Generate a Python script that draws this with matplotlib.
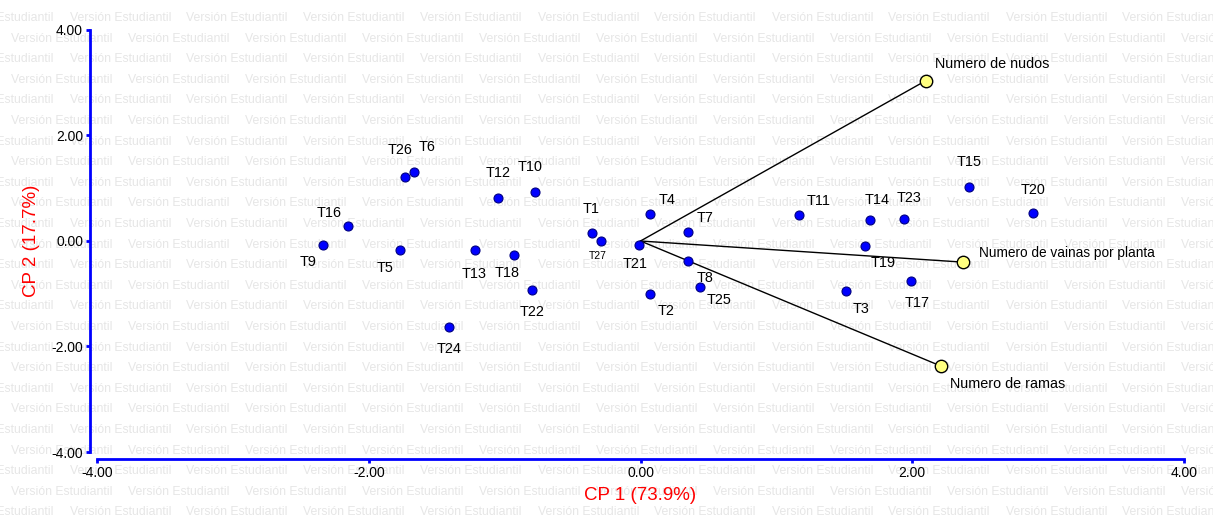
import numpy as np
import matplotlib
matplotlib.use('Agg')
from matplotlib import pyplot as plt

plt.rcParams['font.family'] = ['Liberation Sans', 'DejaVu Sans']

# observations (treatments) in the CP1 / CP2 plane
treat_names = ['T1', 'T2', 'T3', 'T4', 'T5', 'T6', 'T7', 'T8', 'T9', 'T10',
               'T11', 'T12', 'T13', 'T14', 'T15', 'T16', 'T17', 'T18', 'T19', 'T20',
               'T21', 'T22', 'T23', 'T24', 'T25', 'T26', 'T27']
treat_cp1 = [-0.36, 0.07, 1.51, 0.07, -1.77, -1.67, 0.35, 0.35, -2.34, -0.78,
             1.17, -1.05, -1.22, 1.69, 2.42, -2.15, 1.99, -0.93, 1.65, 2.89,
             -0.01, -0.80, 1.94, -1.41, 0.44, -1.73, -0.29]
treat_cp2 = [0.16, -1.00, -0.95, 0.52, -0.18, 1.30, 0.17, -0.37, -0.08, 0.93,
             0.49, 0.82, -0.18, 0.39, 1.02, 0.28, -0.75, -0.26, -0.10, 0.54,
             -0.07, -0.93, 0.42, -1.63, -0.87, 1.21, 0.00]

# variables (vectors)
var_names = ['Numero de nudos', 'Numero de vainas por planta', 'Numero de ramas']
var_cp1 = [2.10, 2.37, 2.21]
var_cp2 = [3.04, -0.40, -2.37]

ticks = [-4, -2, 0, 2, 4]
x_title = 'CP 1 (73.9%)'
y_title = 'CP 2 (17.7%)'
watermark = 'Versión Estudiantil'

# label offsets (pixels, right/down) for each treatment label
label_off = {
    'T1': (0, -24), 'T2': (16, 17), 'T3': (15, 18), 'T4': (17, -14), 'T5': (-15, 18),
    'T6': (13, -25), 'T7': (17, -14), 'T8': (17, 17), 'T9': (-14, 17), 'T10': (-4, -25),
    'T11': (19, -14), 'T12': (0, -25), 'T13': (-1, 24), 'T14': (7, -20), 'T15': (0, -25),
    'T16': (-19, -13), 'T17': (6, 22), 'T18': (-7, 18), 'T19': (18, 17), 'T20': (0, -23),
    'T21': (-4, 19), 'T22': (0, 22), 'T23': (5, -21), 'T24': (0, 22), 'T25': (19, 13),
    'T26': (-5, -27), 'T27': (-3, 15),
}
var_off = [(9, -17), (16, -9), (9, 18)]

W, H, DPI = 1213, 525, 100
px = 72 / DPI
fig = plt.figure(figsize=(W / DPI, H / DPI), dpi=DPI)
fig.patch.set_facecolor('white')

# student version watermark
row_h = 20.6
period = 117
for r in range(26):
    ypix = 18 + r * row_h
    start = 69.5 - period if r % 2 == 0 else 11 - period
    xp = start
    while xp < W:
        fig.text(xp / W, 1 - ypix / H, watermark, fontsize=8.8, color='#e6e6e6',
                 ha='left', va='center', zorder=-5)
        xp += period

ax = fig.add_axes([97 / W, 1 - 452 / H, (1184 - 97) / W, (452 - 30) / H])
ax.patch.set_visible(False)
ax.set_xlim(-4, 4)
ax.set_ylim(-4, 4)

for sp in ['top', 'right']:
    ax.spines[sp].set_visible(False)
for sp in ['left', 'bottom']:
    ax.spines[sp].set_color('#0000ff')
    ax.spines[sp].set_linewidth(2)
    ax.spines[sp].set_position(('outward', 7 * px))

ax.set_xticks(ticks)
ax.set_yticks(ticks)
ax.set_xticklabels(['%.2f' % t for t in ticks])
ax.set_yticklabels(['%.2f' % t for t in ticks])
ax.tick_params(colors='#0000ff', labelcolor='black', labelsize=10, length=3, width=2, pad=2)

ax.set_xlabel(x_title, color='red', fontsize=13.5, labelpad=5)
ax.set_ylabel(y_title, color='red', fontsize=13.5, labelpad=8)

# vectors
for i in range(len(var_names)):
    ax.plot([0, var_cp1[i]], [0, var_cp2[i]], color='black', lw=1, zorder=2)
ax.scatter(var_cp1, var_cp2, s=80, color='#ffff80', edgecolor='black', linewidth=1, zorder=4)
for i, name in enumerate(var_names):
    dx, dy = var_off[i]
    fs = 9.8 if 'vainas' in name else 10.4
    ax.annotate(name, (var_cp1[i], var_cp2[i]), xytext=(dx * px, -dy * px),
                textcoords='offset points', ha='left', va='center', fontsize=fs, zorder=5)

# treatments
ax.scatter(treat_cp1, treat_cp2, s=42, color='#0000ff', edgecolor='#000080', linewidth=0.8, zorder=4)
for i, name in enumerate(treat_names):
    dx, dy = label_off[name]
    fs = 7.5 if name == 'T27' else 10.4
    ax.annotate(name, (treat_cp1[i], treat_cp2[i]), xytext=(dx * px, -dy * px),
                textcoords='offset points', ha='center', va='center', fontsize=fs, zorder=5)

fig.savefig('out.png', dpi=DPI)
